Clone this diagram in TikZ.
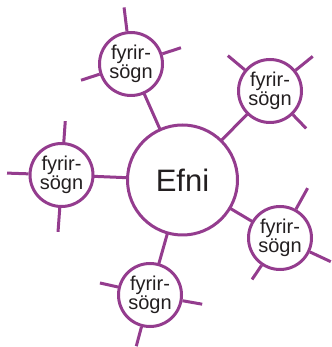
\documentclass[tikz,border=0pt]{standalone}
\usepackage{fontspec}
\setmainfont{Liberation Sans}
\definecolor{spoke}{HTML}{943C8E}
\definecolor{txt}{HTML}{231F20}
\tikzset{
  hub/.style={circle, draw=spoke, line width=3pt, fill=white, minimum size=110pt, inner sep=0pt,
    text=txt, font=\fontsize{31}{31}\selectfont},
  sub/.style={circle, draw=spoke, line width=3pt, fill=white, minimum size=63pt, inner sep=0pt,
    text=txt, align=center, font=\fontsize{20}{19.5}\selectfont},
  link/.style={draw=spoke, line width=3pt},
}
\begin{document}
\begin{tikzpicture}[x=1pt,y=1pt]
\useasboundingbox (0,0) rectangle (331,347);
% links first
\coordinate (cC) at (182.5,167);
\coordinate (cT) at (131,283);
\coordinate (cTR) at (270,256);
\coordinate (cL) at (61.5,172);
\coordinate (cR) at (280,109);
\coordinate (cB) at (150,52);
\draw[link] (cC) -- (cT);
\draw[link] (cC) -- (cTR);
\draw[link] (cC) -- (cL);
\draw[link] (cC) -- (cR);
\draw[link] (cC) -- (cB);
\node[hub] (C) at (cC) {Efni};
\node[sub] (T) at (cT) {fyrir-\\sögn};
\node[sub] (TR) at (cTR) {fyrir-\\sögn};
\node[sub] (L) at (cL) {fyrir-\\sögn};
\node[sub] (R) at (cR) {fyrir-\\sögn};
\node[sub] (B) at (cB) {fyrir-\\sögn};
% ticks
\foreach \n/\a/\d [count=\i] in {T/97/57, T/18/52.5, T/198/52.5,
                      TR/140/55, TR/39/55, TR/-46/52,
                      L/86/54, L/178/54.5, L/-93.5/57,
                      R/61/57, R/-25/56, R/-124/50,
                      B/166.5/51.5, B/-10/53, B/-105/53}{
  \coordinate (tick\i) at ([shift={(\a:\d)}]c\n);
  \draw[link] (\n.\a) -- (tick\i);
}
\end{tikzpicture}
\end{document}
